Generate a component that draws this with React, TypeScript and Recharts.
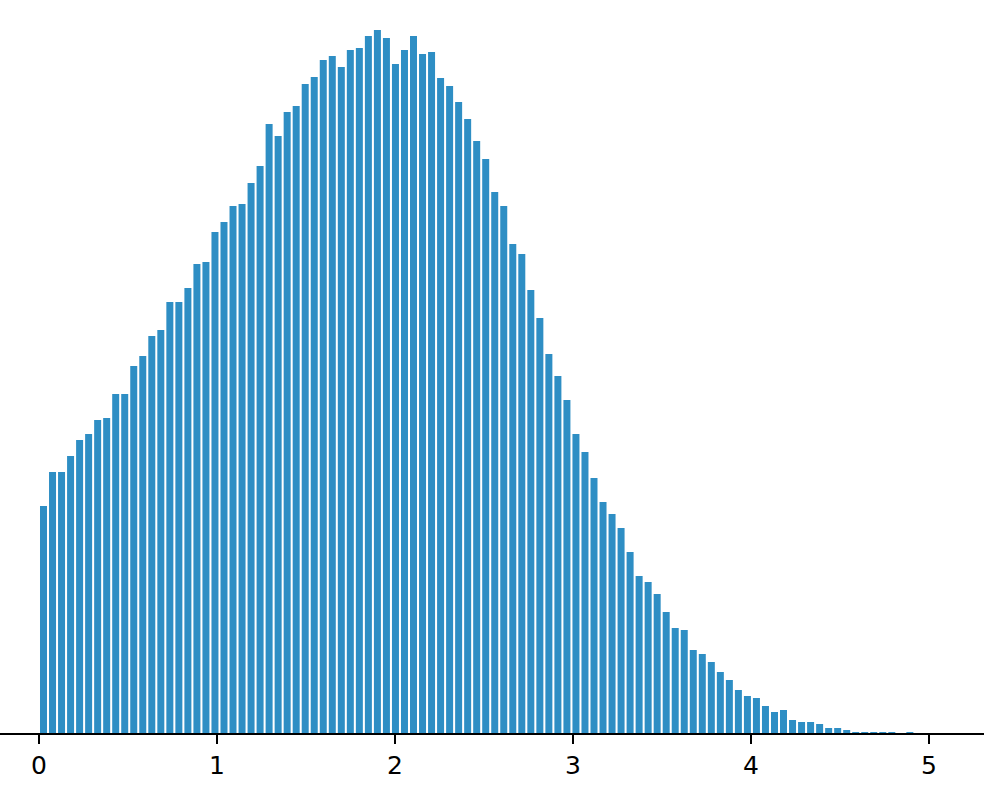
import { Bar, BarChart, XAxis, YAxis } from "recharts"

const BAR_COLOR = "#2e8ec4"

// histogram: 97 equal bins starting at 0
const BIN_WIDTH = 0.0507
const COUNTS = [
  228, 262, 262, 278, 294, 300, 314, 316, 340, 340,
  368, 378, 398, 404, 432, 432, 446, 470, 472, 502,
  512, 528, 530, 551, 568, 610, 598, 622, 628, 650,
  657, 674, 678, 667, 684, 686, 698, 704, 696, 670,
  684, 698, 680, 682, 656, 648, 632, 615, 593, 575,
  542, 528, 490, 480, 444, 416, 380, 358, 334, 300,
  282, 256, 232, 220, 206, 182, 158, 152, 140, 122,
  106, 104, 84, 80, 72, 62, 54, 44, 38, 36,
  28, 22, 24, 14, 12, 12, 10, 6, 6, 4,
  2, 2, 2, 2, 2, 0, 2,
]
const X_TICKS = [0, 1, 2, 3, 4, 5]

const data = COUNTS.map((count, i) => ({
  x: (i + 0.5) * BIN_WIDTH,
  count,
}))

export default function App() {
  return (
    <div style={{ position: "absolute", left: 0, top: 0, background: "#fff" }}>
      <BarChart
        width={984}
        height={790}
        data={data}
        margin={{ top: 0, right: 0, left: 0, bottom: 0 }}
        barCategoryGap={0}
      >
        <YAxis hide domain={[0, 734]} allowDataOverflow />
        <XAxis
          dataKey="x"
          type="number"
          domain={[-0.2191, 5.309]}
          allowDataOverflow
          ticks={X_TICKS}
          interval={0}
          height={56}
          tickSize={10}
          tickMargin={12}
          axisLine={{ stroke: "#000", strokeWidth: 2 }}
          tickLine={{ stroke: "#000", strokeWidth: 2 }}
          tick={{ fill: "#000", fontSize: 25, fontFamily: "DejaVu Sans" }}
        />
        <Bar
          dataKey="count"
          fill={BAR_COLOR}
          barSize={7}
          isAnimationActive={false}
        />
      </BarChart>
    </div>
  )
}
